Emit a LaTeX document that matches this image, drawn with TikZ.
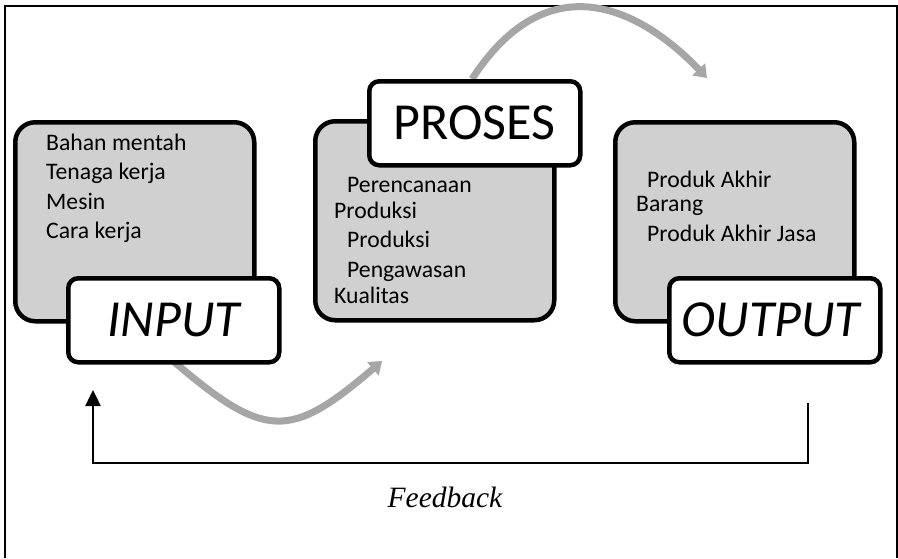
\documentclass[tikz,border=0pt]{standalone}
\usepackage{fontspec}
\setmainfont{Carlito}
\newfontfamily\fbfont{Liberation Serif}
\usetikzlibrary{arrows.meta}
\definecolor{boxgray}{RGB}{208,208,208}
\definecolor{arrgray}{RGB}{166,166,166}
\begin{document}
\begin{tikzpicture}[x=1pt,y=-1pt,
  graybox/.style={draw, line width=4.5pt, fill=boxgray, rounded corners=20pt, anchor=north west, inner sep=0pt, minimum width=239pt, minimum height=199pt},
  labelbox/.style={draw, line width=4.5pt, fill=white, rounded corners=10pt, anchor=north west, inner sep=0pt, minimum width=211pt, minimum height=84pt, font=\fontsize{52}{60}\selectfont},
  item/.style={anchor=base west, inner sep=0pt, font=\fontsize{23.7}{28}\selectfont},
  flow/.style={line width=7pt, draw=arrgray, -{Triangle[length=12pt,width=17pt,fill=arrgray]}},
  fb/.style={line width=2.5pt, -{Triangle[length=16pt,width=15pt]}}]
\useasboundingbox (0,0) rectangle (898,558);
% frame
\draw[line width=2pt] (5,558) -- (5,6) -- (897,6) -- (897,558);
% coordinates
\coordinate (flowAend) at (382,361);
\coordinate (fbs) at (808,403);
\coordinate (fbe) at (93,390);
% gray boxes
\node[graybox] (inG) at (13,120) {};
\node[graybox] (prG) at (313,119) {};
\node[graybox] (outG) at (613,120) {};
% item texts
\node[item] (i1) at (46,150) {Bahan mentah};
\node[item] (i2) at (46,179.5) {Tenaga kerja};
\node[item] (i3) at (46,209) {Mesin};
\node[item] (i4) at (46,238.5) {Cara kerja};
\node[item] (p1) at (347,192) {Perencanaan};
\node[item] (p2) at (334,218.5) {Produksi};
\node[item] (p3) at (347,247) {Produksi};
\node[item] (p4) at (347,277) {Pengawasan};
\node[item] (p5) at (334,303.5) {Kualitas};
\node[item] (o1) at (647,187.5) {Produk Akhir};
\node[item] (o2) at (636,211.5) {Barang};
\node[item] (o3) at (647,241) {Produk Akhir Jasa};
% flow arrows (behind label boxes)
\coordinate (inWs) at (172,360);
\coordinate (prWn) at (472,79);
\draw[flow] (inWs) .. controls (265,440) and (290,440) .. (flowAend);
\coordinate (flowBend) at (707,78);
\draw[flow] (prWn) .. controls (548,-38) and (640,8) .. (flowBend);
% label boxes
\node[labelbox] (inW) at (66,276) {\itshape INPUT};
\node[labelbox] (prW) at (367,79) {\raisebox{-4pt}{PROSES}};
\node[labelbox] (outW) at (667,276) {\itshape OUTPUT\hspace*{8pt}};
% feedback
\draw[fb] (fbs) -- ++(0,60) -| (fbe);
\node[anchor=base, inner sep=0pt, font=\fbfont\itshape\fontsize{29.5}{34}\selectfont] (fbl) at (445,507) {Feedback};
\end{tikzpicture}
\end{document}
